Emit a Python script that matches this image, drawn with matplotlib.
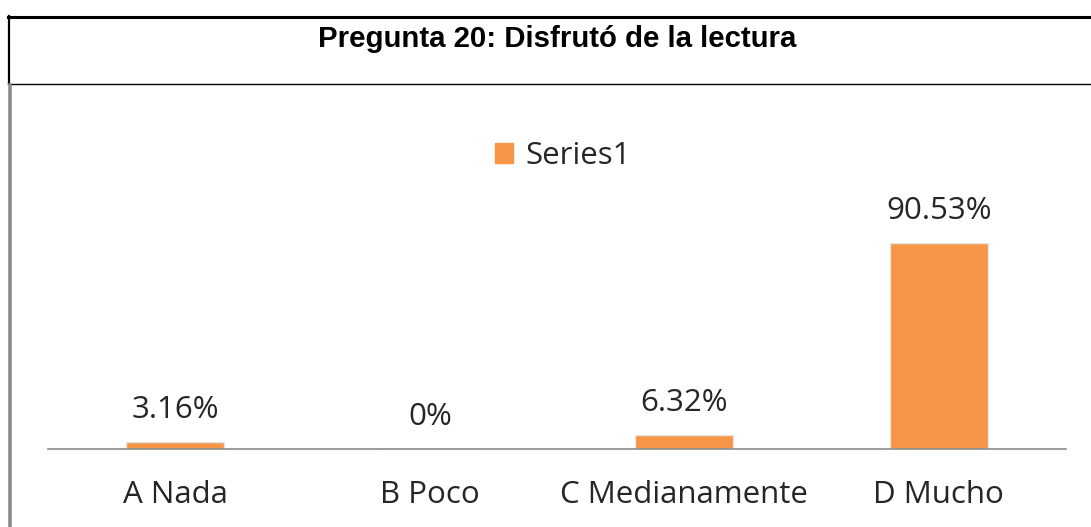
import matplotlib
matplotlib.use('Agg')
import matplotlib.pyplot as plt
from matplotlib.lines import Line2D
from matplotlib.patches import Patch

categories = ['A Nada', 'B Poco', 'C Medianamente', 'D Mucho']
values = [3.16, 0, 6.32, 90.53]
value_labels = ['3.16%', '0%', '6.32%', '90.53%']

title = 'Pregunta 20: Disfrutó de la lectura'
bar_color = '#F79646'
text_font = 'Open Sans'
text_size = 22.5

W, H = 1091, 527
fig = plt.figure(figsize=(W / 100, H / 100), dpi=100)


def fx(px):
    return px / W


def fy(py):
    return 1 - py / H


# title cell borders
fig.add_artist(Line2D([fx(8), fx(1091)], [fy(16.5), fy(16.5)], color='black', lw=2.2))
fig.add_artist(Line2D([fx(8.5), fx(8.5)], [fy(16), fy(84)], color='black', lw=1.6))
fig.add_artist(Line2D([fx(8), fx(1091)], [fy(84), fy(84)], color='black', lw=1.0))
fig.add_artist(Line2D([fx(9.5), fx(9.5)], [fy(85), fy(527)], color='#8c8c8c', lw=2.6))
fig.text(fx(557), fy(39), title, ha='center', va='center', fontsize=21.2,
         fontweight='bold', family='Liberation Sans')

# chart area
base_y = 449
scale = 2.276
top_y = base_y - 100 * scale
ax = fig.add_axes([fx(48), fy(base_y), fx(1066) - fx(48), (base_y - top_y) / H])
ax.set_xlim(-0.5, 3.5)
ax.set_ylim(0, 100)
ax.set_facecolor('none')

x = range(len(categories))
ax.bar(x, values, width=0.385, color=bar_color, edgecolor='#e6e6e6', linewidth=1.0)

for i, (v, lab) in enumerate(zip(values, value_labels)):
    ax.annotate(lab, (i, v), xytext=(0, 12), textcoords='offset points',
                ha='center', va='bottom', fontsize=text_size, color='#262626', family=text_font)

for s in ['top', 'right', 'left']:
    ax.spines[s].set_visible(False)
ax.spines['bottom'].set_color('#8c8c8c')
ax.spines['bottom'].set_linewidth(1.2)
ax.set_yticks([])
ax.set_xticks(list(x))
ax.set_xticklabels(categories, fontsize=text_size, color='#262626', family=text_font)
ax.tick_params(axis='x', length=0, pad=22)

leg = fig.legend(handles=[Patch(color=bar_color, label='Series1')],
                 loc='center', bbox_to_anchor=(fx(563), fy(156)), frameon=False,
                 prop={'family': text_font, 'size': text_size}, handlelength=0.6,
                 handleheight=0.6, handletextpad=0.4)
for t in leg.get_texts():
    t.set_color('#262626')

fig.savefig('out.png', dpi=100)
